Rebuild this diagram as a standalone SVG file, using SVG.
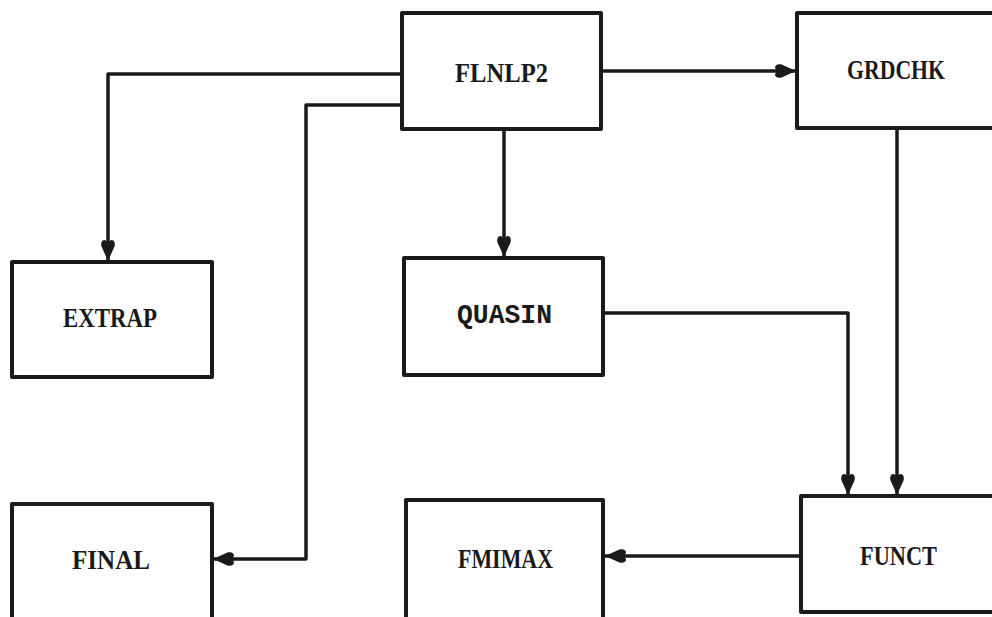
<svg xmlns="http://www.w3.org/2000/svg" width="992" height="617" viewBox="0 0 992 617">
<style>
.box{fill:#fff;stroke:#1a1a1a;stroke-width:4;stroke-linejoin:round}
.lbl{font-family:"Liberation Serif",serif;font-weight:bold;font-size:28px;fill:#1a1a1a;text-anchor:middle}
.mono{font-family:"Liberation Mono",monospace;font-weight:bold;font-size:27px;fill:#1a1a1a;text-anchor:middle}
.wire{fill:none;stroke:#1a1a1a;stroke-width:3.5;stroke-linejoin:round}
</style>
<defs>
<marker id="arr" viewBox="0 0 22 15" refX="22" refY="7.5" markerWidth="22" markerHeight="15" markerUnits="userSpaceOnUse" orient="auto">
<path d="M22,7.5 L7,0.8 Q1,0 1,4.5 Q4,7.5 1,10.5 Q1,15 7,14.2 Z" fill="#1a1a1a"/>
</marker>
</defs>
<rect width="992" height="617" fill="#fff"/>
<g id="connectors">
<path class="wire" d="M402,74 H108 V261" marker-end="url(#arr)"/>
<path class="wire" d="M402,105 H306 V559 H213" marker-end="url(#arr)"/>
<path class="wire" d="M601,71 H796" marker-end="url(#arr)"/>
<path class="wire" d="M504,129 V257" marker-end="url(#arr)"/>
<path class="wire" d="M897,128 V495" marker-end="url(#arr)"/>
<path class="wire" d="M603,313 H848 V495" marker-end="url(#arr)"/>
<path class="wire" d="M801,556 H605" marker-end="url(#arr)"/>
</g>
<g id="FLNLP2">
<rect class="box" x="402" y="13" width="199" height="116"/>
<text class="lbl" x="501.5" y="82" textLength="93" lengthAdjust="spacingAndGlyphs">FLNLP2</text>
</g>
<g id="GRDCHK">
<rect class="box" x="797" y="13" width="200" height="115"/>
<text class="lbl" x="896" y="79" textLength="98" lengthAdjust="spacingAndGlyphs">GRDCHK</text>
</g>
<g id="EXTRAP">
<rect class="box" x="12" y="262" width="200" height="115"/>
<text class="lbl" x="110" y="327" textLength="94" lengthAdjust="spacingAndGlyphs">EXTRAP</text>
</g>
<g id="QUASIN">
<rect class="box" x="404" y="258" width="199" height="117"/>
<text class="mono" x="504.5" y="323" textLength="95" lengthAdjust="spacingAndGlyphs">QUASIN</text>
</g>
<g id="FINAL">
<rect class="box" x="12" y="504" width="200" height="120"/>
<text class="lbl" x="111" y="569" textLength="78" lengthAdjust="spacingAndGlyphs">FINAL</text>
</g>
<g id="FMIMAX">
<rect class="box" x="406" y="500" width="197" height="124"/>
<text class="lbl" x="505.5" y="568" textLength="95" lengthAdjust="spacingAndGlyphs">FMIMAX</text>
</g>
<g id="FUNCT">
<rect class="box" x="801" y="496" width="196" height="116"/>
<text class="lbl" x="898.5" y="565" textLength="77" lengthAdjust="spacingAndGlyphs">FUNCT</text>
</g>
</svg>
